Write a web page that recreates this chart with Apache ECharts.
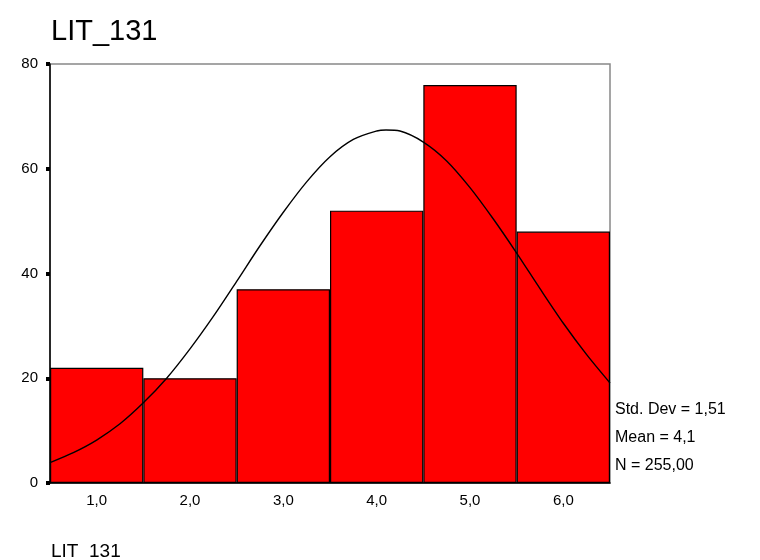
<!DOCTYPE html>
<html><head><meta charset="utf-8">
<script src="https://cdn.jsdelivr.net/npm/echarts@6/dist/echarts.min.js"></script>
<style>html,body{margin:0;padding:0;background:#fff}#c{width:760px;height:560px}</style>
</head><body><div id="c"></div>
<script>
var categories = ['1,0','2,0','3,0','4,0','5,0','6,0'];
var counts = [22, 20, 37, 52, 76, 48];
var curveX = [0.5, 0.75, 1.0, 1.25, 1.5, 1.75, 2.0, 2.25, 2.5, 2.75, 3.0, 3.25, 3.5, 3.75, 4.0, 4.1, 4.25, 4.5, 4.75, 5.0, 5.25, 5.5, 5.75, 6.0, 6.25, 6.5];
var curveY = [3.9, 5.8, 8.2, 11.3, 15.3, 20.0, 25.6, 31.8, 38.5, 45.3, 51.7, 57.5, 62.3, 65.6, 67.2, 67.4, 67.2, 65.1, 61.5, 56.4, 50.4, 43.9, 37.1, 30.5, 24.5, 19.1];
var yTicks = [0, 20, 40, 60, 80];
var stats = ['Std. Dev = 1,51', 'Mean = 4,1', 'N = 255,00'];
var titleText = 'LIT_131';

var chart = echarts.init(document.getElementById('c'), null, {renderer: 'canvas'});
var font = 'Liberation Sans, Arial, sans-serif';
chart.setOption({
  animation: false,
  backgroundColor: '#fff',
  title: [
    {text: titleText, left: 46, top: 12, textStyle: {fontFamily: font, fontSize: 29, fontWeight: 'normal', color: '#000'}},
    {text: titleText, left: 46, top: 537, textStyle: {fontFamily: font, fontSize: 19, fontWeight: 'normal', color: '#000'}}
  ],
  graphic: stats.map(function (s, i) {
    return {type: 'text', left: 615, top: 402 + i * 28, style: {text: s, font: '16px Liberation Sans, Arial, sans-serif', fill: '#000'}};
  }),
  grid: {left: 50, right: 150, top: 64, bottom: 77, show: true, borderColor: '#888', borderWidth: 1.5, containLabel: false},
  xAxis: [
    {type: 'category', data: categories, boundaryGap: true,
     axisLine: {lineStyle: {color: '#000', width: 1.5}},
     axisTick: {alignWithLabel: true, length: 4, lineStyle: {color: '#000', width: 5}},
     axisLabel: {fontFamily: font, fontSize: 15, color: '#000', margin: 10}},
    {type: 'value', min: 0.5, max: 6.5, show: false}
  ],
  yAxis: {type: 'value', min: 0, max: 80, interval: 20,
    axisLine: {show: true, lineStyle: {color: '#000', width: 1.5}},
    axisTick: {show: true, length: 4, lineStyle: {color: '#000', width: 4}},
    splitLine: {show: false},
    axisLabel: {fontFamily: font, fontSize: 15, color: '#000', margin: 12}},
  series: [
    {type: 'bar', xAxisIndex: 0, data: counts, barWidth: '100%', barCategoryGap: 0,
     itemStyle: {color: '#ff0000', borderColor: '#000', borderWidth: 1.2}},
    {type: 'line', xAxisIndex: 1, data: curveX.map(function (x, i) { return [x, curveY[i]]; }),
     smooth: 0.3, symbol: 'none', lineStyle: {color: '#000', width: 1.4}, z: 5}
  ]
});
</script></body></html>
